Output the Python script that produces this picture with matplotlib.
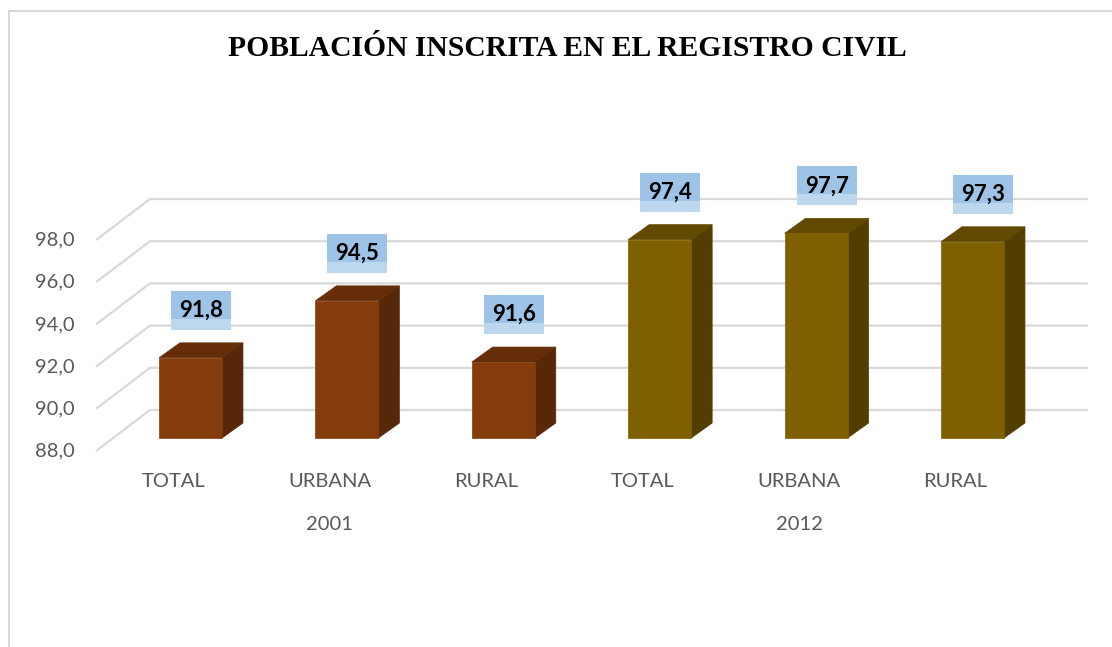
import matplotlib
matplotlib.use("Agg")
from matplotlib import pyplot as plt
from matplotlib.patches import Polygon, Rectangle

# Datos: población inscrita en el registro civil (%)
years = ["2001", "2012"]
areas = ["TOTAL", "URBANA", "RURAL"]
values_2001 = [91.8, 94.5, 91.6]
values_2012 = [97.4, 97.7, 97.3]
yticks = [88, 90, 92, 94, 96, 98]

values = values_2001 + values_2012
labels = areas + areas

# colores (frente, tapa, lateral) por año
col_2001 = ("#843C0C", "#652E09", "#572709")
col_2012 = ("#7F6000", "#614A00", "#523E00")
colors = [col_2001] * 3 + [col_2012] * 3

GRID = "#D9D9D9"
TXT = "#595959"
BASE = 88.0

# perspectiva: desplazamientos en unidades de datos
bar_w = 0.403
bar_dx, bar_dv = 0.134, 0.71          # profundidad de cada barra
front_dx, front_dv = -0.109, -0.616   # plano frontal (etiquetas de ejes)
back_dx, back_dv = 0.236, 1.327       # pared del fondo
grid_x0, grid_x1 = -0.604, 5.738

fig = plt.figure(figsize=(11.12, 6.47), dpi=100)
ax = fig.add_axes([0, 0, 1, 1])
ax.set_xlim(-1.218, 5.892)
ax.set_ylim(78.095, 108.758)
ax.axis("off")

# marco del gráfico
fig.patches.append(Rectangle((9 / 1112, -0.1), 1.2, 1.1 - 11 / 647,
                             transform=fig.transFigure, fill=False,
                             edgecolor=GRID, linewidth=1.5))

# líneas de cuadrícula: pared lateral + pared del fondo
for v in yticks:
    ax.plot([grid_x0, grid_x0 + back_dx - front_dx, grid_x1],
            [v + front_dv, v + back_dv, v + back_dv],
            color=GRID, lw=1.6, zorder=1, solid_capstyle="butt")
    ax.text(-0.738, v + front_dv, f"{v:.1f}".replace(".", ","),
            ha="right", va="center", fontsize=14.5, color=TXT, family="Lato")

# barras 3D
for i, (v, (cf, ct, cs)) in enumerate(zip(values, colors)):
    x0, x1 = i - bar_w / 2, i + bar_w / 2
    ax.add_patch(Polygon([(x1, BASE), (x1 + bar_dx, BASE + bar_dv),
                          (x1 + bar_dx, v + bar_dv), (x1, v)],
                         closed=True, facecolor=cs, edgecolor=cs, lw=0.5, zorder=3))
    ax.add_patch(Polygon([(x0, v), (x1, v), (x1 + bar_dx, v + bar_dv),
                          (x0 + bar_dx, v + bar_dv)],
                         closed=True, facecolor=ct, edgecolor=ct, lw=0.5, zorder=3))
    ax.add_patch(Rectangle((x0, BASE), bar_w, v - BASE,
                           facecolor=cf, edgecolor=cf, lw=0.5, zorder=4))

    # etiqueta de valor con fondo celeste
    cx, cy = i + bar_dx / 2, v + 2.25
    bw, bh = 0.384, 1.85
    ax.add_patch(Rectangle((cx - bw / 2, cy - bh / 2), bw, bh * 0.28,
                           facecolor="#BDD7EE", edgecolor="none", zorder=5))
    ax.add_patch(Rectangle((cx - bw / 2, cy - bh / 2 + bh * 0.28), bw, bh * 0.72,
                           facecolor="#9DC3E6", edgecolor="none", zorder=5))
    ax.text(cx, cy, f"{v:.1f}".replace(".", ","), ha="center", va="center",
            fontsize=16, fontweight="bold", color="black", family="Lato", zorder=6)

    ax.text(i + front_dx, 85.96, labels[i], ha="center", va="center",
            fontsize=14.5, color=TXT, family="Lato")

# etiquetas de año
for j, yr in enumerate(years):
    ax.text(1 + 3 * j + front_dx, 83.88, yr, ha="center", va="center",
            fontsize=14.5, color=TXT, family="Lato")

fig.text(567 / 1112, 1 - 49 / 647, "POBLACIÓN INSCRITA EN EL REGISTRO CIVIL",
         ha="center", va="center", fontsize=21.3, fontweight="bold",
         family="Liberation Serif", color="black")

fig.savefig("out.png", dpi=100)
